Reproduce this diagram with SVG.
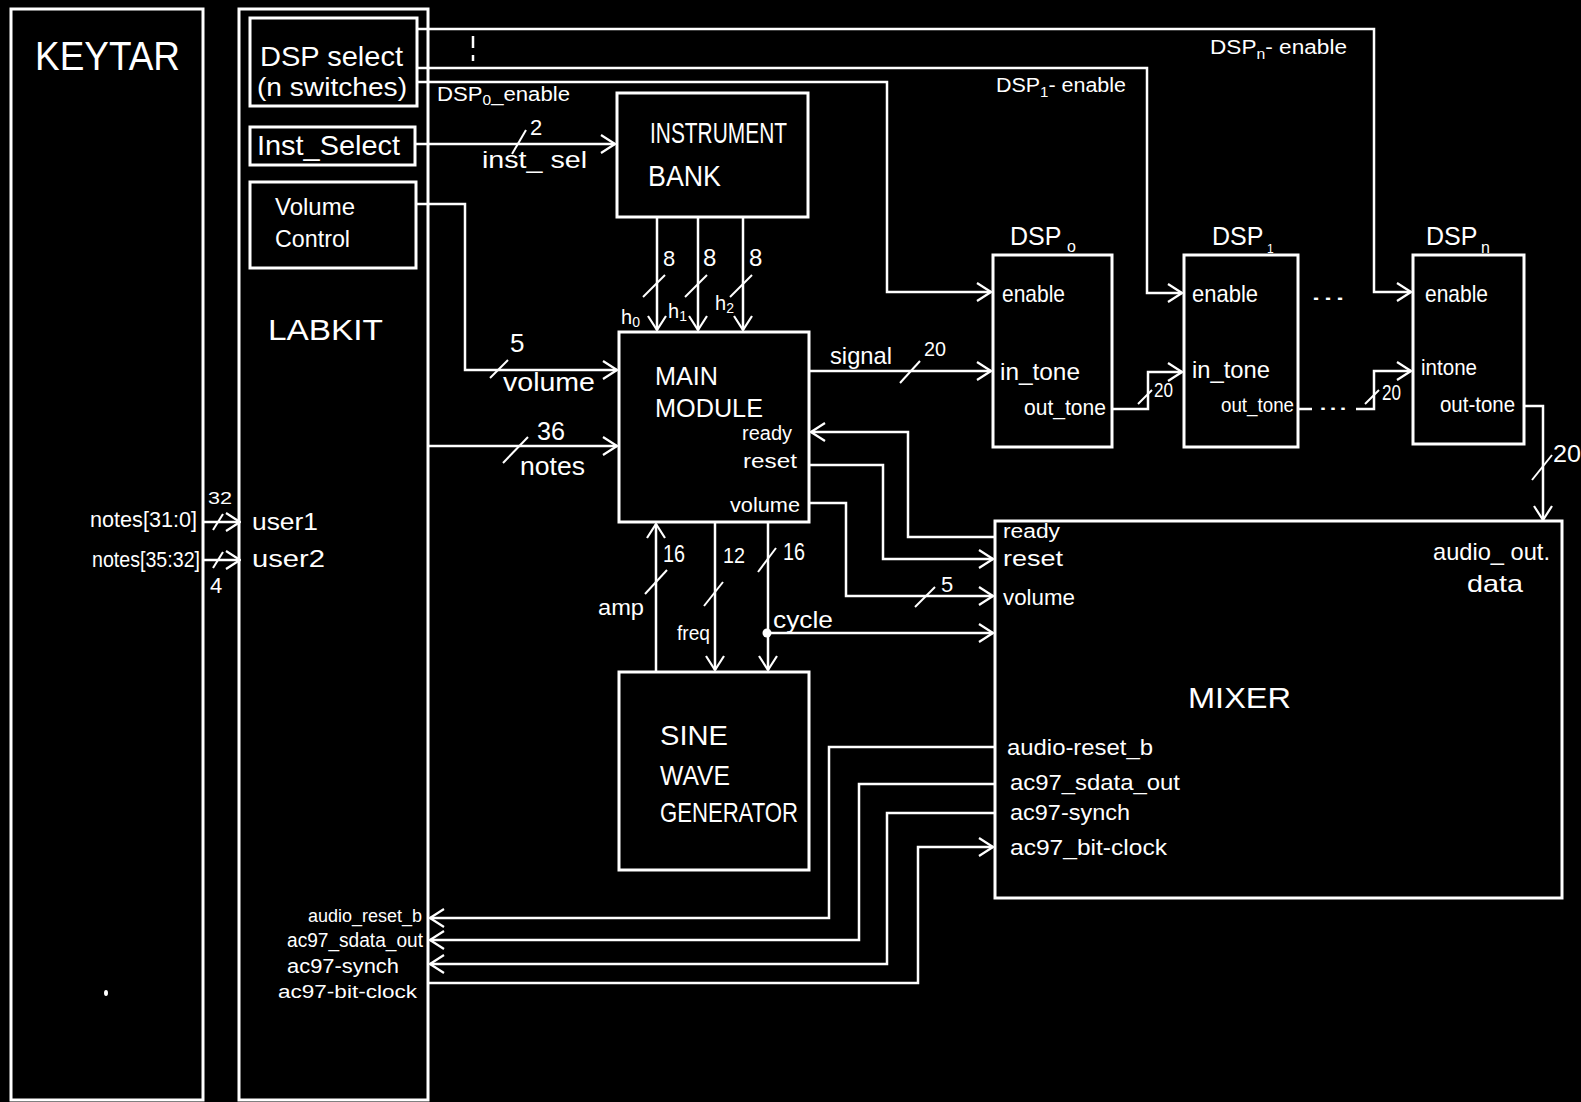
<svg xmlns="http://www.w3.org/2000/svg" width="1581" height="1102" viewBox="0 0 1581 1102">
<style>
.bx{stroke:#fff;stroke-width:3;fill:none}
.ln{stroke:#fff;stroke-width:2.5;fill:none}
.sl{stroke:#fff;stroke-width:2;fill:none}
.t{font-family:"Liberation Sans",sans-serif;fill:#fff}
</style>
<defs>
<marker id="ah" viewBox="0 0 16 20" refX="15" refY="10" markerWidth="16" markerHeight="20" markerUnits="userSpaceOnUse" orient="auto">
<path d="M1,1 L15,10 L1,19" fill="none" stroke="#fff" stroke-width="2.2"/>
</marker>
</defs>
<rect width="1581" height="1102" fill="#000"/>

<g id="keytar">
<rect class="bx" x="11" y="9" width="192" height="1091"/>
<text class="t" x="35" y="70" font-size="40" textLength="145" lengthAdjust="spacingAndGlyphs">KEYTAR</text>
<ellipse cx="106" cy="993" rx="2" ry="3" fill="#fff"/>
<text class="t" x="90" y="527" font-size="22" textLength="107" lengthAdjust="spacingAndGlyphs">notes[31:0]</text>
<text class="t" x="92" y="567" font-size="22" textLength="108" lengthAdjust="spacingAndGlyphs">notes[35:32]</text>
</g>

<g id="labkit">
<rect class="bx" x="239" y="9" width="189" height="1091"/>
<text class="t" x="268" y="340" font-size="30" textLength="115" lengthAdjust="spacingAndGlyphs">LABKIT</text>
<text class="t" x="252" y="530" font-size="24" textLength="66" lengthAdjust="spacingAndGlyphs">user1</text>
<text class="t" x="252" y="567" font-size="24" textLength="73" lengthAdjust="spacingAndGlyphs">user2</text>
<text class="t" x="422" y="922" font-size="18" text-anchor="end" textLength="114" lengthAdjust="spacingAndGlyphs">audio_reset_b</text>
<text class="t" x="423" y="947" font-size="20" text-anchor="end" textLength="136" lengthAdjust="spacingAndGlyphs">ac97_sdata_out</text>
<text class="t" x="399" y="973" font-size="20" text-anchor="end" textLength="112" lengthAdjust="spacingAndGlyphs">ac97-synch</text>
<text class="t" x="417" y="998" font-size="18" text-anchor="end" textLength="139" lengthAdjust="spacingAndGlyphs">ac97-bit-clock</text>
</g>

<g id="dsp-select">
<rect class="bx" x="250" y="18" width="167" height="88" stroke-width="3.5"/>
<text class="t" x="260" y="66" font-size="28" textLength="143" lengthAdjust="spacingAndGlyphs">DSP select</text>
<text class="t" x="257" y="96" font-size="26" textLength="150" lengthAdjust="spacingAndGlyphs">(n switches)</text>
</g>

<g id="inst-select">
<rect class="bx" x="250" y="127" width="165" height="38"/>
<text class="t" x="257" y="155" font-size="28" textLength="143" lengthAdjust="spacingAndGlyphs">Inst_Select</text>
</g>

<g id="volume-control">
<rect class="bx" x="250" y="182" width="166" height="86"/>
<text class="t" x="275" y="215" font-size="24" textLength="80" lengthAdjust="spacingAndGlyphs">Volume</text>
<text class="t" x="275" y="247" font-size="24" textLength="75" lengthAdjust="spacingAndGlyphs">Control</text>
</g>

<g id="instrument-bank">
<rect class="bx" x="617" y="93" width="191" height="124"/>
<text class="t" x="650" y="143" font-size="30" textLength="137" lengthAdjust="spacingAndGlyphs">INSTRUMENT</text>
<text class="t" x="648" y="186" font-size="30" textLength="73" lengthAdjust="spacingAndGlyphs">BANK</text>
</g>

<g id="main-module">
<rect class="bx" x="619" y="332" width="190" height="190"/>
<text class="t" x="655" y="385" font-size="26" textLength="63" lengthAdjust="spacingAndGlyphs">MAIN</text>
<text class="t" x="655" y="417" font-size="26" textLength="108" lengthAdjust="spacingAndGlyphs">MODULE</text>
<text class="t" x="742" y="440" font-size="20" textLength="50" lengthAdjust="spacingAndGlyphs">ready</text>
<text class="t" x="743" y="468" font-size="20" textLength="54" lengthAdjust="spacingAndGlyphs">reset</text>
<text class="t" x="730" y="512" font-size="20" textLength="70" lengthAdjust="spacingAndGlyphs">volume</text>
</g>

<g id="sine-wave-generator">
<rect class="bx" x="619" y="672" width="190" height="198"/>
<text class="t" x="660" y="745" font-size="28" textLength="68" lengthAdjust="spacingAndGlyphs">SINE</text>
<text class="t" x="660" y="785" font-size="28" textLength="70" lengthAdjust="spacingAndGlyphs">WAVE</text>
<text class="t" x="660" y="822" font-size="28" textLength="138" lengthAdjust="spacingAndGlyphs">GENERATOR</text>
</g>

<g id="dsp0">
<rect class="bx" x="993" y="255" width="119" height="192"/>
<text class="t" x="1010" y="245" font-size="25">DSP</text>
<text class="t" x="1067" y="252" font-size="16">o</text>
<text class="t" x="1002" y="302" font-size="24" textLength="63" lengthAdjust="spacingAndGlyphs">enable</text>
<text class="t" x="1000" y="380" font-size="24" textLength="80" lengthAdjust="spacingAndGlyphs">in_tone</text>
<text class="t" x="1024" y="415" font-size="22" textLength="82" lengthAdjust="spacingAndGlyphs">out_tone</text>
</g>

<g id="dsp1">
<rect class="bx" x="1184" y="255" width="114" height="192"/>
<text class="t" x="1212" y="245" font-size="25">DSP</text>
<text class="t" x="1267" y="253" font-size="12">1</text>
<text class="t" x="1192" y="302" font-size="24" textLength="66" lengthAdjust="spacingAndGlyphs">enable</text>
<text class="t" x="1192" y="378" font-size="24" textLength="78" lengthAdjust="spacingAndGlyphs">in_tone</text>
<text class="t" x="1221" y="412" font-size="20" textLength="73" lengthAdjust="spacingAndGlyphs">out_tone</text>
</g>

<g id="dspn">
<rect class="bx" x="1413" y="255" width="111" height="189"/>
<text class="t" x="1426" y="245" font-size="25">DSP</text>
<text class="t" x="1481" y="253" font-size="16">n</text>
<text class="t" x="1425" y="302" font-size="24" textLength="63" lengthAdjust="spacingAndGlyphs">enable</text>
<text class="t" x="1421" y="375" font-size="22" textLength="56" lengthAdjust="spacingAndGlyphs">intone</text>
<text class="t" x="1440" y="412" font-size="22" textLength="75" lengthAdjust="spacingAndGlyphs">out-tone</text>
</g>

<g id="mixer">
<rect class="bx" x="995" y="521" width="567" height="377"/>
<text class="t" x="1188" y="708" font-size="30" textLength="103" lengthAdjust="spacingAndGlyphs">MIXER</text>
<text class="t" x="1433" y="560" font-size="24" textLength="117" lengthAdjust="spacingAndGlyphs">audio_ out.</text>
<text class="t" x="1467" y="592" font-size="24" textLength="56" lengthAdjust="spacingAndGlyphs">data</text>
<text class="t" x="1003" y="538" font-size="20" textLength="57" lengthAdjust="spacingAndGlyphs">ready</text>
<text class="t" x="1003" y="566" font-size="22" textLength="60" lengthAdjust="spacingAndGlyphs">reset</text>
<text class="t" x="1003" y="605" font-size="22" textLength="72" lengthAdjust="spacingAndGlyphs">volume</text>
<text class="t" x="1007" y="755" font-size="22" textLength="146" lengthAdjust="spacingAndGlyphs">audio-reset_b</text>
<text class="t" x="1010" y="790" font-size="22" textLength="170" lengthAdjust="spacingAndGlyphs">ac97_sdata_out</text>
<text class="t" x="1010" y="820" font-size="22" textLength="120" lengthAdjust="spacingAndGlyphs">ac97-synch</text>
<text class="t" x="1010" y="855" font-size="22" textLength="157" lengthAdjust="spacingAndGlyphs">ac97_bit-clock</text>
</g>

<g id="connectors">
<path class="ln" d="M417,29 H1374 V292 H1411" marker-end="url(#ah)"/>
<path class="ln" d="M417,68 H1147 V293 H1182" marker-end="url(#ah)"/>
<path class="ln" d="M417,82 H887 V292 H991" marker-end="url(#ah)"/>
<path class="ln" d="M473,36 V48 M473,55 V61" stroke-width="3"/>
<text class="t" x="437" y="101" font-size="20" textLength="133" lengthAdjust="spacingAndGlyphs">DSP<tspan font-size="14" dy="4">0</tspan><tspan dy="-4">_enable</tspan></text>
<text class="t" x="996" y="92" font-size="20" textLength="130" lengthAdjust="spacingAndGlyphs">DSP<tspan font-size="14" dy="5">1</tspan><tspan dy="-5">- enable</tspan></text>
<text class="t" x="1210" y="54" font-size="20" textLength="137" lengthAdjust="spacingAndGlyphs">DSP<tspan font-size="14" dy="5">n</tspan><tspan dy="-5">- enable</tspan></text>

<path class="ln" d="M415,144 H615" marker-end="url(#ah)"/>
<line class="sl" x1="512" y1="154" x2="526" y2="130"/>
<text class="t" x="530" y="135" font-size="22">2</text>
<text class="t" x="482" y="168" font-size="24" textLength="105" lengthAdjust="spacingAndGlyphs">inst_ sel</text>

<path class="ln" d="M416,204 H465 V370 H617" marker-end="url(#ah)"/>
<line class="sl" x1="490" y1="378" x2="508" y2="360"/>
<text class="t" x="510" y="352" font-size="26">5</text>
<text class="t" x="503" y="391" font-size="26" textLength="92" lengthAdjust="spacingAndGlyphs">volume</text>

<path class="ln" d="M428,446 H617" marker-end="url(#ah)"/>
<line class="sl" x1="503" y1="463" x2="528" y2="437"/>
<text class="t" x="537" y="440" font-size="26" textLength="28" lengthAdjust="spacingAndGlyphs">36</text>
<text class="t" x="520" y="475" font-size="26" textLength="65" lengthAdjust="spacingAndGlyphs">notes</text>

<path class="ln" d="M204,522 H240" marker-end="url(#ah)"/>
<path class="ln" d="M204,560 H240" marker-end="url(#ah)"/>
<line class="sl" x1="213" y1="530" x2="223" y2="514"/>
<line class="sl" x1="213" y1="568" x2="223" y2="552"/>
<text class="t" x="208" y="504" font-size="16" textLength="24" lengthAdjust="spacingAndGlyphs">32</text>
<text class="t" x="210" y="593" font-size="22">4</text>

<path class="ln" d="M657,217 V330" marker-end="url(#ah)"/>
<path class="ln" d="M698,217 V330" marker-end="url(#ah)"/>
<path class="ln" d="M743,217 V330" marker-end="url(#ah)"/>
<line class="sl" x1="643" y1="297" x2="665" y2="275"/>
<line class="sl" x1="685" y1="297" x2="707" y2="275"/>
<line class="sl" x1="730" y1="297" x2="752" y2="275"/>
<text class="t" x="663" y="266" font-size="22">8</text>
<text class="t" x="703" y="266" font-size="24">8</text>
<text class="t" x="749" y="266" font-size="24">8</text>
<text class="t" x="621" y="324" font-size="20">h<tspan font-size="14" dy="3">0</tspan></text>
<text class="t" x="668" y="318" font-size="20">h<tspan font-size="14" dy="3">1</tspan></text>
<text class="t" x="715" y="310" font-size="20">h<tspan font-size="14" dy="3">2</tspan></text>

<path class="ln" d="M809,371 H991" marker-end="url(#ah)"/>
<line class="sl" x1="900" y1="383" x2="920" y2="361"/>
<text class="t" x="830" y="364" font-size="24" textLength="62" lengthAdjust="spacingAndGlyphs">signal</text>
<text class="t" x="924" y="356" font-size="20" textLength="22" lengthAdjust="spacingAndGlyphs">20</text>

<path class="ln" d="M1112,409 H1148 V372 H1182" marker-end="url(#ah)"/>
<line class="sl" x1="1138" y1="404" x2="1152" y2="390"/>
<text class="t" x="1154" y="397" font-size="20" textLength="19" lengthAdjust="spacingAndGlyphs">20</text>
<path class="ln" d="M1298,409 H1312 M1356,409 H1374 V371 H1411" marker-end="url(#ah)"/>
<line class="sl" x1="1365" y1="404" x2="1379" y2="390"/>
<text class="t" x="1382" y="400" font-size="22" textLength="19" lengthAdjust="spacingAndGlyphs">20</text>
<text class="t" x="1318" y="410" font-size="22" textLength="30" lengthAdjust="spacingAndGlyphs">...</text>
<text class="t" x="1310" y="300" font-size="22" textLength="36" lengthAdjust="spacingAndGlyphs">...</text>

<path class="ln" d="M1524,406 H1543 V520" marker-end="url(#ah)"/>
<line class="sl" x1="1532" y1="480" x2="1552" y2="455"/>
<text class="t" x="1553" y="462" font-size="24" textLength="28" lengthAdjust="spacingAndGlyphs">20</text>

<path class="ln" d="M995,537 H908 V432 H811" marker-end="url(#ah)"/>
<path class="ln" d="M809,465 H883 V559 H993" marker-end="url(#ah)"/>
<path class="ln" d="M809,503 H846 V596 H993" marker-end="url(#ah)"/>
<line class="sl" x1="915" y1="607" x2="935" y2="587"/>
<text class="t" x="941" y="592" font-size="22">5</text>

<path class="ln" d="M656,672 V524" marker-end="url(#ah)"/>
<line class="sl" x1="645" y1="594" x2="667" y2="570"/>
<text class="t" x="663" y="562" font-size="24" textLength="22" lengthAdjust="spacingAndGlyphs">16</text>
<text class="t" x="598" y="615" font-size="22" textLength="46" lengthAdjust="spacingAndGlyphs">amp</text>
<path class="ln" d="M715,522 V670" marker-end="url(#ah)"/>
<line class="sl" x1="704" y1="606" x2="723" y2="582"/>
<text class="t" x="723" y="563" font-size="22" textLength="22" lengthAdjust="spacingAndGlyphs">12</text>
<text class="t" x="677" y="640" font-size="20" textLength="33" lengthAdjust="spacingAndGlyphs">freq</text>
<path class="ln" d="M768,522 V670" stroke-width="3.5" marker-end="url(#ah)"/>
<line class="sl" x1="758" y1="572" x2="776" y2="548" stroke-width="3"/>
<text class="t" x="783" y="560" font-size="24" textLength="22" lengthAdjust="spacingAndGlyphs">16</text>
<circle cx="767" cy="633" r="4.5" fill="#fff"/>
<path class="ln" d="M767,633 H993" marker-end="url(#ah)"/>
<text class="t" x="773" y="628" font-size="24" textLength="60" lengthAdjust="spacingAndGlyphs">cycle</text>

<path class="ln" d="M995,747 H829 V918 H430" marker-end="url(#ah)"/>
<path class="ln" d="M995,784 H859 V940 H430" marker-end="url(#ah)"/>
<path class="ln" d="M995,813 H887 V964 H430" marker-end="url(#ah)"/>
<path class="ln" d="M428,983 H918 V847 H993" marker-end="url(#ah)"/>
</g>
</svg>
